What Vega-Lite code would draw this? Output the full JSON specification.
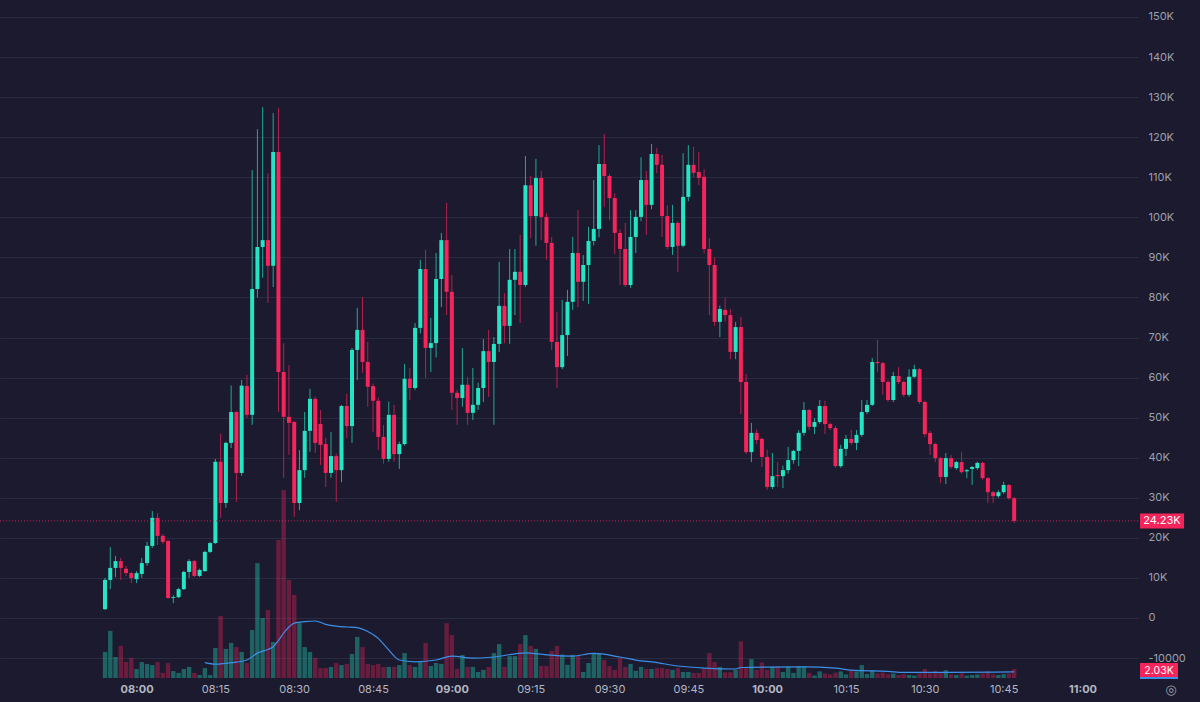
{
  "$schema": "https://vega.github.io/schema/vega-lite/v6.json",
  "width": 1138,
  "height": 678,
  "autosize": "none",
  "padding": {"left": 0, "top": 0, "right": 62, "bottom": 24},
  "background": "#1b1a2e",
  "config": {
    "view": {"stroke": null},
    "axis": {"labelFont": "Inter", "labelFontSize": 11, "domain": false, "ticks": false, "title": null},
    "text": {"font": "Inter"}
  },
  "data": {
    "format": {"parse": {"t": "utc:'%H:%M'"}},
    "values": [
      {"t":"07:54","o":2200,"h":10000,"l":2000,"c":9500,"v":8700},
      {"t":"07:55","o":9500,"h":17700,"l":7200,"c":12500,"v":15700},
      {"t":"07:56","o":12500,"h":15500,"l":10200,"c":14200,"v":7000},
      {"t":"07:57","o":14200,"h":15000,"l":9500,"c":12500,"v":10700},
      {"t":"07:58","o":12300,"h":13000,"l":10500,"c":11200,"v":5300},
      {"t":"07:59","o":11200,"h":11500,"l":8700,"c":10000,"v":6700},
      {"t":"08:00","o":9700,"h":11700,"l":8700,"c":11200,"v":3000},
      {"t":"08:01","o":11000,"h":15000,"l":10000,"c":13700,"v":5300},
      {"t":"08:02","o":13700,"h":19000,"l":13000,"c":18000,"v":4700},
      {"t":"08:03","o":18000,"h":26700,"l":17500,"c":25000,"v":4300},
      {"t":"08:04","o":25000,"h":26200,"l":18200,"c":20500,"v":5300},
      {"t":"08:05","o":20500,"h":21000,"l":18500,"c":19000,"v":1700},
      {"t":"08:06","o":19200,"h":19500,"l":4800,"c":5000,"v":5000},
      {"t":"08:07","o":5000,"h":5700,"l":3700,"c":5200,"v":2300},
      {"t":"08:08","o":5200,"h":7500,"l":5000,"c":7200,"v":1700},
      {"t":"08:09","o":7200,"h":11800,"l":7000,"c":11500,"v":3000},
      {"t":"08:10","o":11500,"h":14700,"l":10000,"c":14200,"v":3700},
      {"t":"08:11","o":14200,"h":14500,"l":10200,"c":10500,"v":1700},
      {"t":"08:12","o":10500,"h":12300,"l":10200,"c":12000,"v":1000},
      {"t":"08:13","o":11700,"h":16800,"l":11500,"c":16500,"v":3300},
      {"t":"08:14","o":16500,"h":19000,"l":16200,"c":18700,"v":1000},
      {"t":"08:15","o":18700,"h":39700,"l":18500,"c":39000,"v":10000},
      {"t":"08:16","o":39000,"h":46000,"l":25000,"c":28700,"v":20700},
      {"t":"08:17","o":28700,"h":44000,"l":27500,"c":43700,"v":9700},
      {"t":"08:18","o":43700,"h":58000,"l":42400,"c":51400,"v":11700},
      {"t":"08:19","o":51400,"h":51700,"l":29000,"c":36200,"v":10300},
      {"t":"08:20","o":36200,"h":59400,"l":35500,"c":58000,"v":8700},
      {"t":"08:21","o":57900,"h":60700,"l":49900,"c":50700,"v":5000},
      {"t":"08:22","o":50700,"h":111800,"l":48200,"c":82100,"v":16000},
      {"t":"08:23","o":82100,"h":122000,"l":80000,"c":92600,"v":38300},
      {"t":"08:24","o":92600,"h":127500,"l":84900,"c":94300,"v":20000},
      {"t":"08:25","o":94300,"h":111000,"l":78600,"c":87900,"v":22700},
      {"t":"08:26","o":87900,"h":126000,"l":82600,"c":116300,"v":12000},
      {"t":"08:27","o":116300,"h":127300,"l":51400,"c":61400,"v":46000},
      {"t":"08:28","o":61400,"h":68600,"l":35000,"c":50200,"v":62700},
      {"t":"08:29","o":50200,"h":63100,"l":40700,"c":48700,"v":32700},
      {"t":"08:30","o":48900,"h":49200,"l":25200,"c":28700,"v":27700},
      {"t":"08:31","o":28700,"h":41900,"l":26900,"c":36900,"v":18300},
      {"t":"08:32","o":36900,"h":51400,"l":35000,"c":46700,"v":10300},
      {"t":"08:33","o":46700,"h":57200,"l":41500,"c":54700,"v":8700},
      {"t":"08:34","o":54700,"h":55200,"l":41200,"c":43700,"v":6700},
      {"t":"08:35","o":48400,"h":51900,"l":38200,"c":43200,"v":3300},
      {"t":"08:36","o":43400,"h":45000,"l":32700,"c":36200,"v":3300},
      {"t":"08:37","o":36200,"h":46400,"l":35000,"c":40400,"v":3700},
      {"t":"08:38","o":40400,"h":41000,"l":29000,"c":36900,"v":5000},
      {"t":"08:39","o":36900,"h":53200,"l":33900,"c":52900,"v":4300},
      {"t":"08:40","o":52900,"h":56000,"l":44900,"c":47900,"v":4700},
      {"t":"08:41","o":47900,"h":67400,"l":43700,"c":66900,"v":8000},
      {"t":"08:42","o":66900,"h":77400,"l":59400,"c":71900,"v":13700},
      {"t":"08:43","o":71900,"h":80100,"l":61200,"c":63900,"v":10300},
      {"t":"08:44","o":63900,"h":68900,"l":52700,"c":57700,"v":4700},
      {"t":"08:45","o":57900,"h":58500,"l":46400,"c":54200,"v":4300},
      {"t":"08:46","o":54200,"h":55000,"l":41900,"c":45200,"v":4700},
      {"t":"08:47","o":45200,"h":48200,"l":38500,"c":39700,"v":3700},
      {"t":"08:48","o":39700,"h":54000,"l":39000,"c":50700,"v":3700},
      {"t":"08:49","o":50700,"h":53200,"l":39000,"c":40900,"v":3700},
      {"t":"08:50","o":40900,"h":44000,"l":37200,"c":43400,"v":4300},
      {"t":"08:51","o":43400,"h":63400,"l":43000,"c":59700,"v":8300},
      {"t":"08:52","o":59700,"h":62400,"l":54400,"c":57400,"v":4300},
      {"t":"08:53","o":57400,"h":73600,"l":56900,"c":72400,"v":3700},
      {"t":"08:54","o":72400,"h":89400,"l":71000,"c":87100,"v":5300},
      {"t":"08:55","o":87100,"h":91900,"l":59900,"c":67400,"v":11700},
      {"t":"08:56","o":67400,"h":74900,"l":61400,"c":68600,"v":4000},
      {"t":"08:57","o":68600,"h":91100,"l":65000,"c":84600,"v":5000},
      {"t":"08:58","o":84600,"h":96100,"l":77600,"c":94300,"v":4700},
      {"t":"08:59","o":94300,"h":103600,"l":75600,"c":81400,"v":18300},
      {"t":"09:00","o":81400,"h":85600,"l":51900,"c":56200,"v":14300},
      {"t":"09:01","o":56200,"h":57000,"l":48200,"c":54900,"v":3000},
      {"t":"09:02","o":54900,"h":67400,"l":52700,"c":58200,"v":7700},
      {"t":"09:03","o":58200,"h":60200,"l":48200,"c":51200,"v":3700},
      {"t":"09:04","o":51200,"h":62400,"l":49400,"c":53200,"v":3700},
      {"t":"09:05","o":53200,"h":58700,"l":51900,"c":57400,"v":2000},
      {"t":"09:06","o":57400,"h":69600,"l":53900,"c":66600,"v":2700},
      {"t":"09:07","o":66600,"h":71900,"l":55200,"c":63900,"v":3700},
      {"t":"09:08","o":63900,"h":70100,"l":48200,"c":68400,"v":8300},
      {"t":"09:09","o":68400,"h":88900,"l":66400,"c":77900,"v":11300},
      {"t":"09:10","o":77900,"h":81100,"l":68600,"c":72900,"v":3700},
      {"t":"09:11","o":72900,"h":92100,"l":68400,"c":84400,"v":7300},
      {"t":"09:12","o":84400,"h":92100,"l":75600,"c":86400,"v":7300},
      {"t":"09:13","o":86400,"h":95600,"l":73600,"c":83100,"v":11300},
      {"t":"09:14","o":83100,"h":115300,"l":82600,"c":108000,"v":14300},
      {"t":"09:15","o":108000,"h":110300,"l":94800,"c":100300,"v":10700},
      {"t":"09:16","o":100300,"h":114600,"l":92900,"c":109800,"v":9700},
      {"t":"09:17","o":109800,"h":111600,"l":94300,"c":100100,"v":4000},
      {"t":"09:18","o":100100,"h":101000,"l":89400,"c":93600,"v":4000},
      {"t":"09:19","o":93600,"h":95100,"l":66900,"c":68900,"v":9000},
      {"t":"09:20","o":68900,"h":76400,"l":57400,"c":62600,"v":10700},
      {"t":"09:21","o":62600,"h":79400,"l":62100,"c":70600,"v":7800},
      {"t":"09:22","o":70600,"h":81900,"l":65400,"c":78900,"v":4400},
      {"t":"09:23","o":78900,"h":95100,"l":76900,"c":91100,"v":7700},
      {"t":"09:24","o":91100,"h":101800,"l":77600,"c":83900,"v":7300},
      {"t":"09:25","o":83900,"h":90600,"l":79100,"c":88100,"v":2000},
      {"t":"09:26","o":88100,"h":97600,"l":78400,"c":94100,"v":5000},
      {"t":"09:27","o":94100,"h":109300,"l":93000,"c":97100,"v":8300},
      {"t":"09:28","o":97100,"h":118000,"l":95000,"c":113300,"v":8300},
      {"t":"09:29","o":113300,"h":120800,"l":102600,"c":110300,"v":6000},
      {"t":"09:30","o":110300,"h":110800,"l":99300,"c":104800,"v":4000},
      {"t":"09:31","o":104800,"h":106000,"l":90800,"c":96100,"v":2700},
      {"t":"09:32","o":96100,"h":97000,"l":83100,"c":92100,"v":6700},
      {"t":"09:33","o":92100,"h":98600,"l":82600,"c":83100,"v":3700},
      {"t":"09:34","o":83100,"h":101800,"l":82400,"c":95100,"v":4700},
      {"t":"09:35","o":95100,"h":101800,"l":91100,"c":100100,"v":2400},
      {"t":"09:36","o":100100,"h":115000,"l":99000,"c":109300,"v":3700},
      {"t":"09:37","o":109300,"h":111600,"l":95600,"c":103100,"v":3000},
      {"t":"09:38","o":103100,"h":118300,"l":102000,"c":115800,"v":3000},
      {"t":"09:39","o":115800,"h":117300,"l":111000,"c":113100,"v":3300},
      {"t":"09:40","o":113100,"h":115600,"l":95100,"c":100300,"v":3300},
      {"t":"09:41","o":100300,"h":103000,"l":92000,"c":92600,"v":3000},
      {"t":"09:42","o":92600,"h":103100,"l":90600,"c":98600,"v":2700},
      {"t":"09:43","o":98600,"h":99000,"l":86400,"c":92900,"v":3300},
      {"t":"09:44","o":92900,"h":116000,"l":92500,"c":105100,"v":2000},
      {"t":"09:45","o":105100,"h":118000,"l":104000,"c":113100,"v":2000},
      {"t":"09:46","o":113100,"h":117600,"l":110000,"c":111100,"v":1700},
      {"t":"09:47","o":111300,"h":116300,"l":108000,"c":109800,"v":1700},
      {"t":"09:48","o":110100,"h":112000,"l":91000,"c":92100,"v":3000},
      {"t":"09:49","o":92100,"h":94800,"l":75600,"c":88100,"v":8300},
      {"t":"09:50","o":88100,"h":90000,"l":72900,"c":73900,"v":5300},
      {"t":"09:51","o":73900,"h":78000,"l":70100,"c":77100,"v":3700},
      {"t":"09:52","o":76900,"h":79900,"l":74000,"c":75600,"v":1900},
      {"t":"09:53","o":75600,"h":77100,"l":64600,"c":66400,"v":1900},
      {"t":"09:54","o":66400,"h":73900,"l":64600,"c":72600,"v":2700},
      {"t":"09:55","o":72600,"h":75100,"l":50900,"c":58900,"v":12200},
      {"t":"09:56","o":58900,"h":60900,"l":40900,"c":41400,"v":3300},
      {"t":"09:57","o":41400,"h":48700,"l":38900,"c":46200,"v":6300},
      {"t":"09:58","o":46200,"h":47000,"l":43400,"c":44400,"v":2700},
      {"t":"09:59","o":44700,"h":45000,"l":37700,"c":40200,"v":5200},
      {"t":"10:00","o":40200,"h":42000,"l":32000,"c":32700,"v":2700},
      {"t":"10:01","o":32700,"h":41200,"l":32200,"c":35400,"v":3700},
      {"t":"10:02","o":35700,"h":38900,"l":32700,"c":35400,"v":3900},
      {"t":"10:03","o":35400,"h":38000,"l":32400,"c":36900,"v":2000},
      {"t":"10:04","o":36900,"h":42700,"l":36000,"c":39400,"v":3700},
      {"t":"10:05","o":39400,"h":42000,"l":38500,"c":41700,"v":1700},
      {"t":"10:06","o":41700,"h":46900,"l":37900,"c":46200,"v":3900},
      {"t":"10:07","o":46200,"h":53900,"l":45500,"c":51900,"v":3900},
      {"t":"10:08","o":51900,"h":52200,"l":46900,"c":47700,"v":1700},
      {"t":"10:09","o":47700,"h":49900,"l":45900,"c":48900,"v":800},
      {"t":"10:10","o":48900,"h":54400,"l":48500,"c":52900,"v":2200},
      {"t":"10:11","o":52900,"h":54200,"l":45900,"c":48400,"v":1500},
      {"t":"10:12","o":48400,"h":48800,"l":46900,"c":47400,"v":1200},
      {"t":"10:13","o":47400,"h":47900,"l":37500,"c":37900,"v":1800},
      {"t":"10:14","o":37900,"h":43200,"l":37500,"c":42200,"v":2200},
      {"t":"10:15","o":42200,"h":45700,"l":40400,"c":44700,"v":1200},
      {"t":"10:16","o":44700,"h":46900,"l":43200,"c":43700,"v":2600},
      {"t":"10:17","o":43700,"h":46900,"l":41900,"c":45700,"v":2200},
      {"t":"10:18","o":45700,"h":54400,"l":45200,"c":51400,"v":4300},
      {"t":"10:19","o":51400,"h":54400,"l":50900,"c":53200,"v":1300},
      {"t":"10:20","o":53200,"h":64900,"l":52900,"c":63900,"v":2500},
      {"t":"10:21","o":63900,"h":69400,"l":61400,"c":63600,"v":1500},
      {"t":"10:22","o":63600,"h":63900,"l":55700,"c":58900,"v":1800},
      {"t":"10:23","o":58900,"h":59400,"l":53900,"c":54400,"v":1200},
      {"t":"10:24","o":54400,"h":61400,"l":53900,"c":60400,"v":1500},
      {"t":"10:25","o":60400,"h":62600,"l":58400,"c":58900,"v":1000},
      {"t":"10:26","o":58900,"h":59200,"l":55200,"c":55700,"v":1300},
      {"t":"10:27","o":55700,"h":62100,"l":55200,"c":60200,"v":1000},
      {"t":"10:28","o":60200,"h":63200,"l":59900,"c":62100,"v":800},
      {"t":"10:29","o":62100,"h":62400,"l":53400,"c":53900,"v":1500},
      {"t":"10:30","o":53900,"h":54200,"l":45200,"c":45900,"v":3000},
      {"t":"10:31","o":46200,"h":46700,"l":40700,"c":43400,"v":1500},
      {"t":"10:32","o":43400,"h":43700,"l":38900,"c":39900,"v":2400},
      {"t":"10:33","o":39900,"h":40200,"l":33700,"c":35200,"v":1600},
      {"t":"10:34","o":35200,"h":41200,"l":33400,"c":39900,"v":2600},
      {"t":"10:35","o":39900,"h":40700,"l":37200,"c":37700,"v":1200},
      {"t":"10:36","o":37400,"h":39200,"l":37000,"c":38900,"v":1000},
      {"t":"10:37","o":38900,"h":41400,"l":36000,"c":36400,"v":1500},
      {"t":"10:38","o":36600,"h":37200,"l":34900,"c":36900,"v":800},
      {"t":"10:39","o":37200,"h":37900,"l":33200,"c":37700,"v":1000},
      {"t":"10:40","o":37400,"h":39000,"l":37000,"c":38700,"v":1200},
      {"t":"10:41","o":38700,"h":39000,"l":34500,"c":34900,"v":1500},
      {"t":"10:42","o":34900,"h":35200,"l":28700,"c":31400,"v":2200},
      {"t":"10:43","o":31400,"h":31700,"l":28700,"c":30400,"v":1200},
      {"t":"10:44","o":30400,"h":31900,"l":30000,"c":31400,"v":1000},
      {"t":"10:45","o":31400,"h":34000,"l":31000,"c":33200,"v":1300},
      {"t":"10:46","o":33200,"h":33400,"l":29500,"c":29900,"v":1500},
      {"t":"10:47","o":29900,"h":30200,"l":23700,"c":24230,"v":3000}
    ]
  },
  "encoding": {
    "x": {
      "field": "t",
      "type": "temporal",
      "scale": {
        "type": "utc",
        "padding": 0,
        "domain": [
          {"year": 1900, "month": 1, "date": 1, "hours": 7, "minutes": 34, "seconds": 1, "utc": true},
          {"year": 1900, "month": 1, "date": 1, "hours": 11, "minutes": 10, "seconds": 34, "utc": true}
        ]
      },
      "axis": {
        "orient": "bottom",
        "values": [
          {"year": 1900, "month": 1, "date": 1, "hours": 8, "minutes": 0, "utc": true},
          {"year": 1900, "month": 1, "date": 1, "hours": 8, "minutes": 15, "utc": true},
          {"year": 1900, "month": 1, "date": 1, "hours": 8, "minutes": 30, "utc": true},
          {"year": 1900, "month": 1, "date": 1, "hours": 8, "minutes": 45, "utc": true},
          {"year": 1900, "month": 1, "date": 1, "hours": 9, "minutes": 0, "utc": true},
          {"year": 1900, "month": 1, "date": 1, "hours": 9, "minutes": 15, "utc": true},
          {"year": 1900, "month": 1, "date": 1, "hours": 9, "minutes": 30, "utc": true},
          {"year": 1900, "month": 1, "date": 1, "hours": 9, "minutes": 45, "utc": true},
          {"year": 1900, "month": 1, "date": 1, "hours": 10, "minutes": 0, "utc": true},
          {"year": 1900, "month": 1, "date": 1, "hours": 10, "minutes": 15, "utc": true},
          {"year": 1900, "month": 1, "date": 1, "hours": 10, "minutes": 30, "utc": true},
          {"year": 1900, "month": 1, "date": 1, "hours": 10, "minutes": 45, "utc": true},
          {"year": 1900, "month": 1, "date": 1, "hours": 11, "minutes": 0, "utc": true}
        ],
        "labelExpr": "utcFormat(datum.value, '%H:%M')",
        "labelColor": "#b4b7c3",
        "labelFontWeight": {"condition": {"test": "utcminutes(datum.value) === 0", "value": 700}, "value": 400},
        "labelPadding": 5,
        "grid": false
      }
    }
  },
  "layer": [
    {
      "layer": [
        {
          "mark": {"type": "bar", "size": 4.4, "opacity": 0.36},
          "encoding": {
            "y": {"field": "v", "type": "quantitative", "scale": {"domain": [0, 226000]}, "axis": null},
            "color": {"condition": {"test": "datum.c >= datum.o", "value": "#25e6c4"}, "value": "#f5245b"}
          }
        },
        {
          "data": {
            "format": {"parse": {"t": "utc:'%H:%M'"}},
            "values": [
              {"t":"08:13","v":5100},{"t":"08:15","v":4600},{"t":"08:17","v":4900},{"t":"08:19","v":5300},
              {"t":"08:21","v":6000},{"t":"08:23","v":8300},{"t":"08:25","v":9500},{"t":"08:26","v":10400},
              {"t":"08:27","v":12500},{"t":"08:28","v":15000},{"t":"08:29","v":17000},{"t":"08:30","v":18300},
              {"t":"08:32","v":18800},{"t":"08:34","v":19000},{"t":"08:36","v":17900},{"t":"08:38","v":17300},
              {"t":"08:40","v":17000},{"t":"08:42","v":16800},{"t":"08:44","v":15500},{"t":"08:46","v":13200},
              {"t":"08:47","v":11300},{"t":"08:48","v":9300},{"t":"08:50","v":6000},{"t":"08:53","v":5400},
              {"t":"08:57","v":6000},{"t":"09:00","v":7300},{"t":"09:04","v":6600},{"t":"09:08","v":7000},
              {"t":"09:14","v":8400},{"t":"09:18","v":7700},{"t":"09:23","v":7300},{"t":"09:27","v":8200},
              {"t":"09:32","v":7000},{"t":"09:36","v":5700},{"t":"09:38","v":5400},{"t":"09:43","v":4000},
              {"t":"09:48","v":3300},{"t":"09:54","v":3000},{"t":"09:55","v":3500},{"t":"10:07","v":3700},
              {"t":"10:13","v":3300},{"t":"10:16","v":2600},{"t":"10:23","v":2200},{"t":"10:26","v":1900},
              {"t":"10:34","v":1900},{"t":"10:47","v":2030}
            ]
          },
          "mark": {"type": "line", "color": "#3d8fe8", "strokeWidth": 1.2, "interpolate": "monotone"},
          "encoding": {
            "y": {"field": "v", "type": "quantitative", "scale": {"domain": [0, 226000]}, "axis": null}
          }
        },
        {
          "data": {
            "format": {"parse": {"t": "utc:'%H:%M:%S'", "t2": "utc:'%H:%M:%S'"}},
            "values": [{"t": "11:10:57", "t2": "11:18:11", "lo": 0, "hi": 5000}]
          },
          "mark": {"type": "rect", "color": "#f5245b"},
          "encoding": {
            "x2": {"field": "t2"},
            "y": {"field": "lo", "type": "quantitative", "scale": {"domain": [0, 226000]}},
            "y2": {"field": "hi"}
          }
        },
        {
          "data": {
            "format": {"parse": {"t": "utc:'%H:%M:%S'", "t2": "utc:'%H:%M:%S'"}},
            "values": [{"t": "11:10:57", "t2": "11:18:11", "lo": 0}]
          },
          "mark": {"type": "rule", "color": "#3d8fe8", "strokeWidth": 2},
          "encoding": {
            "x2": {"field": "t2"},
            "y": {"field": "lo", "type": "quantitative", "scale": {"domain": [0, 226000]}}
          }
        },
        {
          "data": {
            "format": {"parse": {"t": "utc:'%H:%M:%S'"}},
            "values": [{"t": "11:14:34", "mid": 2300, "label": "2.03K"}]
          },
          "mark": {"type": "text", "color": "#ffffff", "fontSize": 10.5, "baseline": "middle", "align": "center"},
          "encoding": {
            "y": {"field": "mid", "type": "quantitative", "scale": {"domain": [0, 226000]}},
            "text": {"field": "label"}
          }
        }
      ]
    },
    {
      "layer": [
        {
          "mark": {"type": "rule", "strokeWidth": 1, "opacity": 0.7},
          "encoding": {
            "y": {
              "field": "l",
              "type": "quantitative",
              "scale": {"domain": [-14974, 154230]},
              "axis": {
                "orient": "right",
                "values": [-10000, 0, 10000, 20000, 30000, 40000, 50000, 60000, 70000, 80000, 90000, 100000, 110000, 120000, 130000, 140000, 150000],
                "labelExpr": "datum.value > 0 ? (datum.value / 1000) + 'K' : '' + datum.value",
                "labelColor": "#9da0ad",
                "labelAlign": "left",
                "labelPadding": 10,
                "grid": true,
                "gridColor": "#2a2a40",
                "gridWidth": 1
              }
            },
            "y2": {"field": "h"},
            "color": {"condition": {"test": "datum.c >= datum.o", "value": "#25e6c4"}, "value": "#f5245b"}
          }
        },
        {
          "mark": {"type": "bar", "size": 4},
          "encoding": {
            "y": {"field": "o", "type": "quantitative", "scale": {"domain": [-14974, 154230]}},
            "y2": {"field": "c"},
            "color": {"condition": {"test": "datum.c >= datum.o", "value": "#25e6c4"}, "value": "#f5245b"}
          }
        },
        {
          "data": {"values": [{"p": 24230}]},
          "mark": {"type": "rule", "color": "#f5245b", "strokeDash": [1, 2], "strokeWidth": 1, "opacity": 0.8},
          "encoding": {
            "x": null,
            "y": {"field": "p", "type": "quantitative", "scale": {"domain": [-14974, 154230]}}
          }
        },
        {
          "data": {
            "format": {"parse": {"t": "utc:'%H:%M:%S'", "t2": "utc:'%H:%M:%S'"}},
            "values": [{"t": "11:10:57", "t2": "11:19:20", "lo": 22360, "hi": 26100}]
          },
          "mark": {"type": "rect", "color": "#f5245b"},
          "encoding": {
            "x2": {"field": "t2"},
            "y": {"field": "lo", "type": "quantitative", "scale": {"domain": [-14974, 154230]}},
            "y2": {"field": "hi"}
          }
        },
        {
          "data": {
            "format": {"parse": {"t": "utc:'%H:%M:%S'"}},
            "values": [{"t": "11:15:08", "p": 24230, "label": "24.23K"}]
          },
          "mark": {"type": "text", "color": "#ffffff", "fontSize": 11, "baseline": "middle", "align": "center"},
          "encoding": {
            "y": {"field": "p", "type": "quantitative", "scale": {"domain": [-14974, 154230]}},
            "text": {"field": "label"}
          }
        },
        {
          "data": {
            "format": {"parse": {"t": "utc:'%H:%M:%S'"}},
            "values": [{"t": "11:16:51", "p": -17900, "label": "◎"}]
          },
          "mark": {"type": "text", "color": "#9da0ad", "fontSize": 13, "baseline": "middle", "align": "center", "font": "DejaVu Sans"},
          "encoding": {
            "y": {"field": "p", "type": "quantitative", "scale": {"domain": [-14974, 154230]}},
            "text": {"field": "label"}
          }
        }
      ]
    }
  ],
  "resolve": {"scale": {"y": "independent"}}
}
